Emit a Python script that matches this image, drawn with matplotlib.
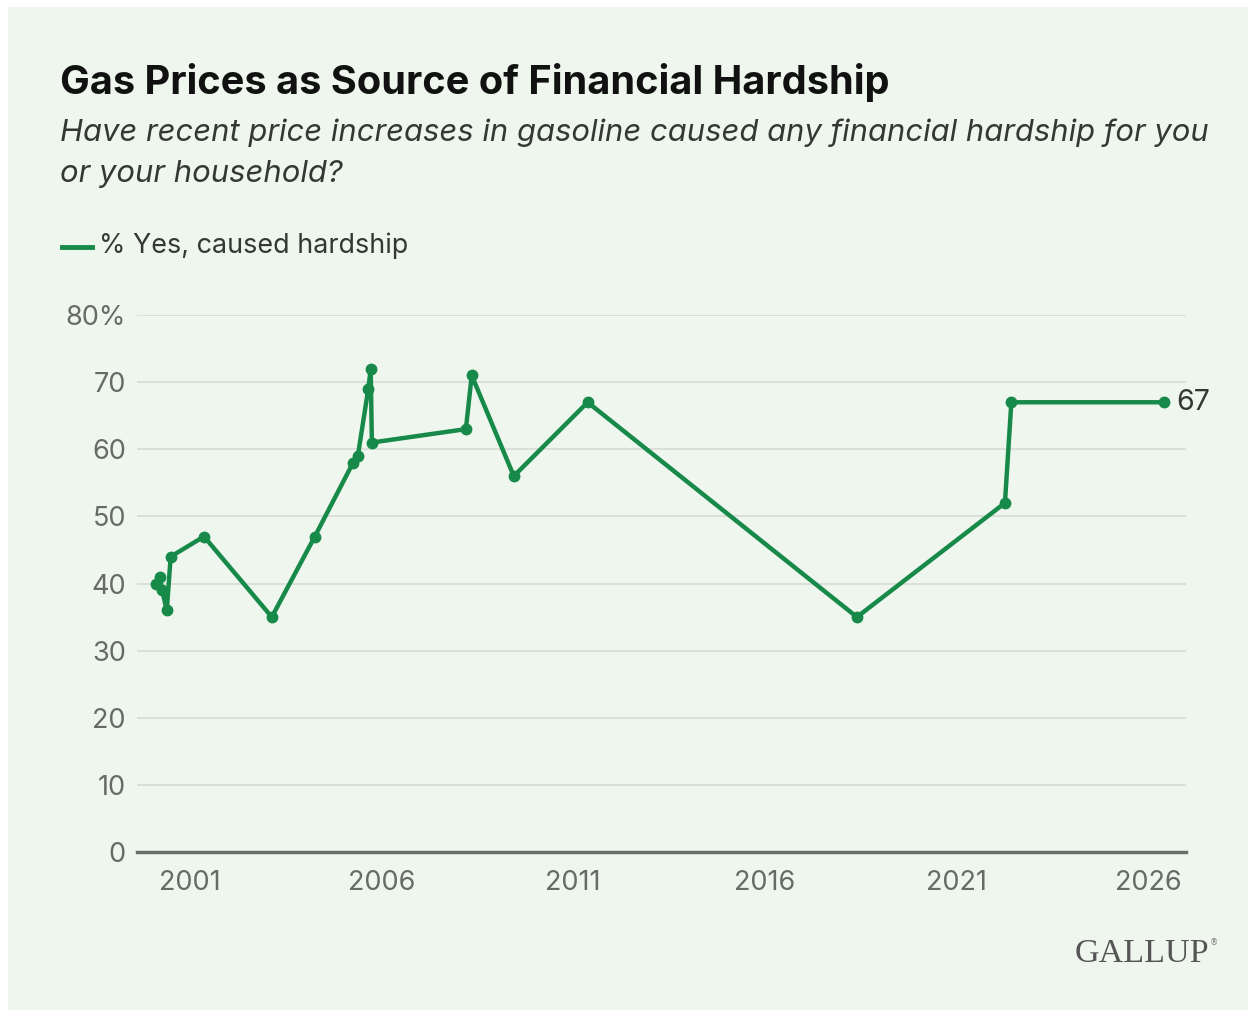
import matplotlib.pyplot as plt
import pandas as pd
from matplotlib.patches import Rectangle

# survey dates (approx.) and % saying gas prices caused hardship
dates = ["2000-02-10", "2000-03-20", "2000-04-10", "2000-05-25", "2000-07-01",
         "2001-05-15", "2003-02-20", "2004-04-05", "2005-04-05", "2005-05-20",
         "2005-08-28", "2005-09-20", "2005-10-01", "2008-03-15", "2008-05-10",
         "2009-06-15", "2011-05-20", "2018-05-30", "2022-04-10", "2022-06-10",
         "2026-06-05"]
pct_yes = [40, 41, 39, 36, 44, 47, 35, 47, 58, 59, 69, 72, 61, 63, 71, 56, 67,
           35, 52, 67, 67]
tick_years = [2001, 2006, 2011, 2016, 2021, 2026]
y_ticks = [0, 10, 20, 30, 40, 50, 60, 70, 80]

W, H = 1256, 1011
BG = "#eff6ee"
GREEN = "#178a49"
GRID = "#d8ddd7"
TXT = "#333833"
GREY = "#666b66"
FONT = "Inter"

df = pd.DataFrame({"date": pd.to_datetime(dates), "pct": pct_yes})

fig = plt.figure(figsize=(W / 100, H / 100), dpi=100, facecolor="white")
fig.patches.append(Rectangle((8 / W, 1 - 1010 / H), 1240 / W, 1003 / H,
                             transform=fig.transFigure, facecolor=BG,
                             edgecolor="none", zorder=-10))


def px(x, y):
  return x / W, 1 - y / H


ax = fig.add_axes([137 / W, 1 - 852 / H, (1186 - 137) / W, (852 - 315) / H])
ax.set_facecolor("none")

ax.plot(df["date"], df["pct"], color=GREEN, lw=3.2, marker="o", ms=7.5,
        solid_joinstyle="round", zorder=3, clip_on=False)

ax.set_ylim(0, 80)
ax.set_xlim(pd.Timestamp("1999-08-15"), pd.Timestamp("2026-12-31"))
ax.set_yticks(y_ticks)
ax.set_yticklabels([f"{v}%" if v == 80 else str(v) for v in y_ticks])
ax.set_xticks([pd.Timestamp(f"{y}-01-01") for y in tick_years])
ax.set_xticklabels([str(y) for y in tick_years])

ax.grid(axis="y", color=GRID, lw=1.3)
ax.set_axisbelow(True)
for s in ["top", "right", "left"]:
  ax.spines[s].set_visible(False)
ax.spines["bottom"].set_color("#66706a")
ax.spines["bottom"].set_linewidth(2.5)
ax.spines["bottom"].set_zorder(4)
ax.tick_params(axis="both", length=0, labelsize=19.5, labelcolor=GREY)
ax.tick_params(axis="y", pad=8)
ax.tick_params(axis="x", pad=13)
for lab in ax.get_xticklabels() + ax.get_yticklabels():
  lab.set_fontfamily(FONT)

# end label
last = df.iloc[-1]
ax.annotate(str(last["pct"]), (last["date"], last["pct"]), xytext=(9, 0),
            textcoords="offset points", va="center", ha="left",
            fontsize=20.5, color=TXT, family=FONT)

fig.text(*px(60, 83), "Gas Prices as Source of Financial Hardship",
         fontsize=28.6, fontweight="bold", color="#111111", family=FONT,
         va="center", ha="left")
fig.text(*px(60, 133), "Have recent price increases in gasoline caused any financial hardship for you",
         fontsize=22.3, style="italic", color=TXT, family=FONT,
         va="center", ha="left")
fig.text(*px(60, 174), "or your household?",
         fontsize=22.3, style="italic", color=TXT, family=FONT,
         va="center", ha="left")

# legend
fig.lines.append(plt.Line2D([62 / W, 92 / W], [1 - 247 / H, 1 - 247 / H],
                            transform=fig.transFigure, color=GREEN, lw=3.5))
fig.text(*px(99, 246), "% Yes, caused hardship", fontsize=19.4, color=TXT,
         family=FONT, va="center", ha="left")

fig.text(*px(1209, 954), "GALLUP", fontsize=24.5, color="#555555",
         family="Liberation Serif", va="center", ha="right")
fig.text(*px(1210, 943), "®", fontsize=6, color="#777777",
         family="DejaVu Sans", va="center", ha="left")

fig.savefig("out.png", dpi=100, facecolor="white")
